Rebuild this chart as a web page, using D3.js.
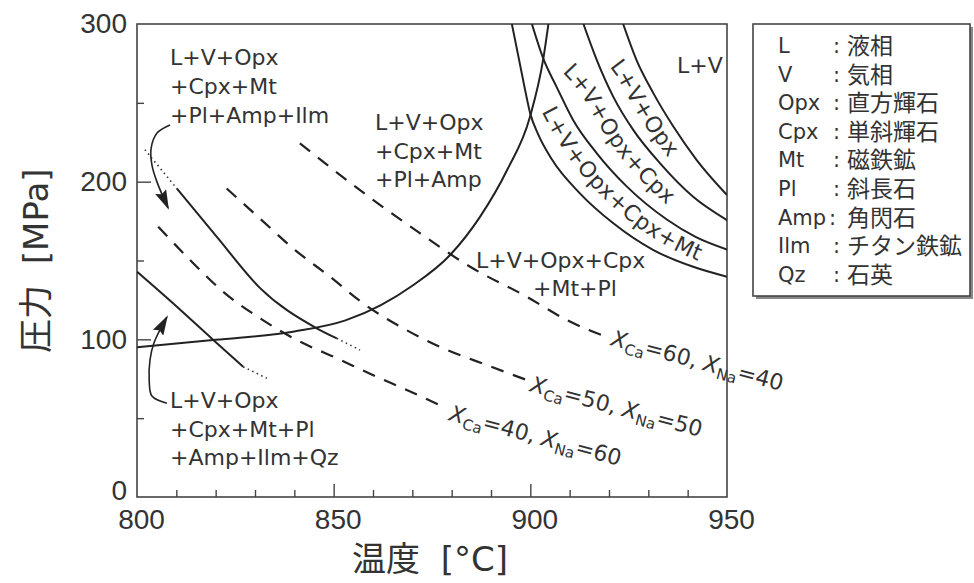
<!DOCTYPE html>
<html lang="ja">
<head>
<meta charset="UTF-8">
<title>圧力-温度 相図</title>
<style>
    body {
        margin: 0;
        background: #fff;
    }
    svg {
        display: block;
        font-family: "DejaVu Sans", "Noto Sans CJK JP", sans-serif;
    }
    .frame {
        fill: none;
        stroke: #444;
        stroke-width: 1.6px;
    }
    .axis line {
        stroke: #444;
        stroke-width: 1.4px;
    }
    .axis text {
        font-size: 28px;
        fill: #333;
    }
    .curve {
        fill: none;
        stroke: #222;
        stroke-width: 2px;
    }
    .dash {
        fill: none;
        stroke: #222;
        stroke-width: 2.2px;
        stroke-dasharray: 13, 10;
    }
    .dots {
        fill: none;
        stroke: #333;
        stroke-width: 1.6px;
        stroke-dasharray: 1.5, 3.5;
    }
    .arrow {
        fill: none;
        stroke: #222;
        stroke-width: 1.6px;
    }
    .lbl {
        font-size: 22px;
        fill: #333;
    }
    .title {
        font-size: 34px;
        fill: #333;
    }
    .legend-text {
        font-size: 21px;
        fill: #333;
    }
    .legend-jp {
        font-size: 23px;
    }
</style>
</head>
<body>
<div id="chart"></div>
<script src="https://cdn.jsdelivr.net/npm/d3@7"></script>
<script>
    // [温度 °C, 圧力 MPa]
    var risingCurve = [[800,94.9],[820,99.7],[840,105],[853,112],[862,121.7],[870,134],[879.6,153.5],[887.2,177.7],[894.1,207.4],[899.9,241],[903.3,278],[904.6,300]];
    var curveA = [[895.3,300],[897,279],[898.6,259],[900,243],[902,230],[905.5,214],[912.6,192.6],[921.1,173.6],[931.3,156.6],[941.4,146],[950,139.7]];
    var curveB = [[900.4,300],[903.3,278],[906.7,260],[910.9,239],[916.9,218],[924.5,197],[934.7,176],[942,165],[950,157]];
    var curveC = [[913.5,300],[916.9,277.1],[921.1,253.8],[926.2,232.7],[933,211.6],[941.4,190.4],[950,175.6]];
    var curveD = [[923.6,300],[927,277.1],[931.3,256],[936.4,234.8],[942.3,213.7],[950,191.5]];

    var upperSolid = [[810.1,195.7],[820.3,165],[831.3,132.5],[845.7,107],[850.8,100.6]];
    var upperDotsA = [[802,220.3],[810.1,195.7]];
    var upperDotsB = [[850.8,100.6],[856.7,93.2]];
    var lowerSolid = [[800,142.9],[810,121],[819.4,99.6],[827,82.6]];
    var lowerDots = [[827,82.6],[833,75.3]];

    var dashCa60 = [[841.4,224.3],[860.1,188.3],[872,167.2],[884.7,146],[899.1,127],[909.3,112.2],[920.3,100.6]];
    var dashCa50 = [[822.8,195.7],[831.7,175.6],[840.2,156.6],[849.1,139.7],[857.5,122.8],[867.7,107],[877.9,94.3],[888.9,83.7],[899.1,74.2]];
    var dashCa40 = [[805.4,171.4],[813.5,150.3],[821.9,130.2],[831.3,113.3],[840.6,99.6],[850.8,88],[860.9,76.3],[867.7,68.9],[877,58.3]];

    var arrowTop = [[808.4,235.9],[805.1,230.8],[803.6,221.3],[803.8,210.5],[805.1,199.7],[807.9,183.3]];
    var arrowBottom = [[807.6,59.4],[803.8,64],[803.1,74.2],[803.3,86.9],[804.3,97.7],[807.6,114.1]];

    var xMajor = [800, 850, 900, 950];
    var xMinor = [810, 820, 830, 840, 860, 870, 880, 890, 910, 920, 930, 940];
    var yMajor = [0, 100, 200, 300];
    var yMinor = [50, 150, 250];

    var legendAbbr = ["L", "V", "Opx", "Cpx", "Mt", "Pl", "Amp", "Ilm", "Qz"];
    var legendName = ["液相", "気相", "直方輝石", "単斜輝石", "磁鉄鉱", "斜長石", "角閃石", "チタン鉄鉱", "石英"];

    var labelTopLeft = ["L+V+Opx", "+Cpx+Mt", "+Pl+Amp+Ilm"];
    var labelMiddle = ["L+V+Opx", "+Cpx+Mt", "+Pl+Amp"];
    var labelRight = ["L+V+Opx+Cpx", "+Mt+Pl"];
    var labelBottomLeft = ["L+V+Opx", "+Cpx+Mt+Pl", "+Amp+Ilm+Qz"];

    var width = 974, height = 583;
    var x = d3.scaleLinear().domain([800, 950]).range([137, 727]);
    var y = d3.scaleLinear().domain([0, 300]).range([497, 24]);

    var svg = d3.select("#chart").append("svg")
        .attr("width", width)
        .attr("height", height);

    svg.append("rect").attr("width", width).attr("height", height).attr("fill", "#fff");

    var defs = svg.append("defs");
    defs.append("clipPath").attr("id", "plot-clip")
        .append("rect")
        .attr("x", x(800)).attr("y", y(300))
        .attr("width", x(950) - x(800)).attr("height", y(0) - y(300));

    defs.append("marker")
        .attr("id", "head")
        .attr("markerUnits", "userSpaceOnUse")
        .attr("viewBox", "0 0 20 12")
        .attr("markerWidth", 20)
        .attr("markerHeight", 12)
        .attr("refX", 18)
        .attr("refY", 6)
        .attr("orient", "auto")
        .append("path")
        .attr("d", "M0,0 L20,6 L0,12 L3,6 Z")
        .attr("fill", "#222");

    // axes
    var xMinorAxis = d3.axisBottom(x).tickValues(xMinor).tickSize(-7).tickSizeOuter(0).tickFormat("");
    var xMajorAxis = d3.axisBottom(x).tickValues(xMajor).tickSize(-13).tickSizeOuter(0).tickPadding(12).tickFormat(d3.format("d"));
    var yMinorAxis = d3.axisLeft(y).tickValues(yMinor).tickSize(-7).tickSizeOuter(0).tickFormat("");
    var yMajorAxis = d3.axisLeft(y).tickValues(yMajor).tickSize(-14).tickSizeOuter(0).tickPadding(10).tickFormat(d3.format("d"));

    [xMinorAxis, xMajorAxis].forEach(function(ax) {
        svg.append("g").attr("class", "axis x")
            .attr("transform", "translate(0," + y(0) + ")")
            .call(ax)
            .call(function(g) { g.select(".domain").remove(); });
    });
    [yMinorAxis, yMajorAxis].forEach(function(ax) {
        svg.append("g").attr("class", "axis y")
            .attr("transform", "translate(" + x(800) + ",0)")
            .call(ax)
            .call(function(g) { g.select(".domain").remove(); });
    });
    svg.selectAll(".axis text").attr("font-family", null);
    svg.selectAll(".axis.x text").attr("dx", 4);
    svg.selectAll(".axis.y .tick").filter(function(d) { return d === 0; }).select("text").attr("dy", "0.1em");
    svg.selectAll(".axis .tick").filter(function(d) { return d === 800 || d === 950 || d === 0 || d === 300; })
        .select("line").remove();

    svg.append("rect").attr("class", "frame")
        .attr("x", x(800)).attr("y", y(300))
        .attr("width", x(950) - x(800)).attr("height", y(0) - y(300));

    // curves
    var line = d3.line()
        .x(function(d) { return x(d[0]); })
        .y(function(d) { return y(d[1]); })
        .curve(d3.curveMonotoneX);

    var plot = svg.append("g").attr("clip-path", "url(#plot-clip)");

    [risingCurve, curveA, curveB, curveC, curveD, upperSolid, lowerSolid].forEach(function(c) {
        plot.append("path").attr("class", "curve").attr("d", line(c));
    });
    [upperDotsA, upperDotsB, lowerDots].forEach(function(c) {
        plot.append("path").attr("class", "dots").attr("d", line(c));
    });
    [dashCa60, dashCa50, dashCa40].forEach(function(c) {
        plot.append("path").attr("class", "dash").attr("d", line(c));
    });

    // arrows
    var arrowLine = d3.line()
        .x(function(d) { return x(d[0]); })
        .y(function(d) { return y(d[1]); })
        .curve(d3.curveCatmullRom.alpha(0.5));
    [arrowTop, arrowBottom].forEach(function(c) {
        svg.append("path").attr("class", "arrow")
            .attr("d", arrowLine(c))
            .attr("marker-end", "url(#head)");
    });

    // region labels
    function block(lines, x0, y0, step) {
        var t = svg.append("text").attr("class", "lbl");
        lines.forEach(function(s, i) {
            t.append("tspan").attr("x", x0).attr("y", y0 + i * step).text(s);
        });
    }
    block(labelTopLeft, 170, 65, 29);
    block(labelMiddle, 375, 130, 28.5);
    block(labelBottomLeft, 170, 408, 28.5);
    svg.append("text").attr("class", "lbl").attr("x", 476).attr("y", 268).text(labelRight[0]);
    svg.append("text").attr("class", "lbl").attr("x", 533).attr("y", 296).text(labelRight[1]);
    svg.append("text").attr("class", "lbl").attr("x", 677).attr("y", 73).text("L+V");

    // labels set along the middle of two neighbouring curves
    function lerp(c) {
        return d3.scaleLinear().domain(c.map(function(d) { return d[0]; })).range(c.map(function(d) { return d[1]; })).clamp(true);
    }
    var bands = [
        {id: "band-cd", lo: curveC, hi: curveD, t0: 917, t1: 941, text: "L+V+Opx"},
        {id: "band-bc", lo: curveB, hi: curveC, t0: 906, t1: 940, text: "L+V+Opx+Cpx"},
        {id: "band-ab", lo: curveA, hi: curveB, t0: 901.5, t1: 950, text: "L+V+Opx+Cpx+Mt"}
    ];
    var midLine = d3.line()
        .x(function(d) { return x(d[0]); })
        .y(function(d) { return y(d[1]); })
        .curve(d3.curveBasis);
    bands.forEach(function(b) {
        var fl = lerp(b.lo), fh = lerp(b.hi);
        var pts = d3.range(b.t0, b.t1 + 0.01, (b.t1 - b.t0) / 8).map(function(t) {
            return [t, (fl(t) + fh(t)) / 2];
        });
        defs.append("path").attr("id", b.id).attr("d", midLine(pts));
        svg.append("text").attr("class", "lbl")
            .attr("dy", "0.36em")
            .append("textPath")
            .attr("href", "#" + b.id)
            .attr("startOffset", "50%")
            .attr("text-anchor", "middle")
            .text(b.text);
    });

    // composition labels on dashed lines
    var comp = [
        {ca: 60, na: 40, x: 610, y: 345},
        {ca: 50, na: 50, x: 529, y: 391},
        {ca: 40, na: 60, x: 448, y: 420}
    ];
    comp.forEach(function(c) {
        var t = svg.append("text").attr("class", "lbl")
            .attr("transform", "translate(" + c.x + "," + c.y + ") rotate(15)");
        t.append("tspan").attr("font-style", "italic").text("X");
        t.append("tspan").attr("font-size", "15px").attr("dy", 5).text("Ca");
        t.append("tspan").attr("dy", -5).text("=" + c.ca + ", ");
        t.append("tspan").attr("font-style", "italic").text("X");
        t.append("tspan").attr("font-size", "15px").attr("dy", 5).text("Na");
        t.append("tspan").attr("dy", -5).text("=" + c.na);
    });

    // axis titles
    var xt = svg.append("text").attr("class", "title").attr("x", 352).attr("y", 571);
    xt.append("tspan").text("温度");
    xt.append("tspan").attr("dx", 10).text(" [°C]");
    var yt = svg.append("text").attr("class", "title")
        .attr("transform", "translate(48,353) rotate(-90)");
    yt.append("tspan").text("圧力");
    yt.append("tspan").attr("dx", 10).text(" [MPa]");

    // legend
    var lg = svg.append("g");
    lg.append("rect").attr("x", 756).attr("y", 27).attr("width", 217).attr("height", 272).attr("fill", "#888");
    lg.append("rect").attr("x", 753).attr("y", 24).attr("width", 217).attr("height", 272)
        .attr("fill", "#fff").attr("stroke", "#444").attr("stroke-width", 1.6);
    legendAbbr.forEach(function(a, i) {
        var yy = 53 + i * 28.6;
        lg.append("text").attr("class", "legend-text").attr("x", 778).attr("y", yy).text(a);
        lg.append("text").attr("class", "legend-text").attr("x", a === "Amp" ? 829 : 833).attr("y", yy).text(":");
        lg.append("text").attr("class", "legend-text legend-jp").attr("x", 847).attr("y", yy + 1).text(legendName[i]);
    });
</script>
</body>
</html>
